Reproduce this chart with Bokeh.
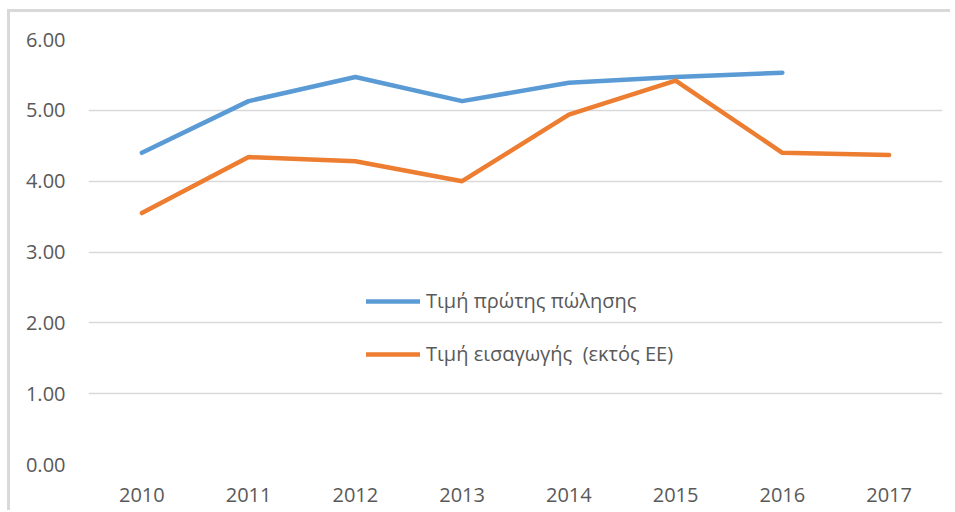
from bokeh.plotting import figure
from bokeh.models import Range1d, FactorRange, NumeralTickFormatter, Legend, LegendItem, FixedTicker
from bokeh.embed import file_html
from bokeh.resources import INLINE

years = ["2010", "2011", "2012", "2013", "2014", "2015", "2016", "2017"]
first_sale_years = ["2010", "2011", "2012", "2013", "2014", "2015", "2016"]
first_sale = [4.40, 5.13, 5.47, 5.13, 5.39, 5.47, 5.53]
import_price = [3.55, 4.34, 4.28, 4.00, 4.94, 5.42, 4.40, 4.37]
label_first = "Τιμή πρώτης πώλησης"
label_import = "Τιμή εισαγωγής  (εκτός ΕΕ)"
y_ticks = [0, 1, 2, 3, 4, 5, 6]

FONT = "Open Sans"
TXT = "#595959"
GRID = "#d9d9d9"

p = figure(width=940, height=498, output_backend="svg", toolbar_location=None,
           x_range=FactorRange(*years), y_range=Range1d(0, 6),
           min_border_left=78, min_border_top=27, min_border_bottom=49, min_border_right=11)
p.styles = {"border-top": "3px solid #d9d9d9", "border-left": "3px solid #d9d9d9",
            "margin-left": "7px", "margin-top": "9px", "box-sizing": "content-box"}
p.outline_line_color = None
p.background_fill_color = "white"
p.border_fill_color = "white"

r1 = p.line(first_sale_years, first_sale, line_color="#5B9BD5", line_width=4.5,
            line_cap="round", line_join="round")
r2 = p.line(years, import_price, line_color="#ED7D31", line_width=4.5,
            line_cap="round", line_join="round")

for ax in (p.xaxis[0], p.yaxis[0]):
    ax.axis_line_color = None
    ax.major_tick_line_color = None
    ax.minor_tick_line_color = None
    ax.major_label_text_font = FONT
    ax.major_label_text_font_size = "20px"
    ax.major_label_text_color = TXT

p.yaxis.ticker = FixedTicker(ticks=y_ticks)
p.yaxis.formatter = NumeralTickFormatter(format="0.00")
p.yaxis.major_label_standoff = 17
p.xaxis.major_label_standoff = 17

p.xgrid.grid_line_color = None
p.ygrid.grid_line_color = GRID
p.ygrid.grid_line_width = 1.5

legend = Legend(items=[LegendItem(label=label_first, renderers=[r1]),
                       LegendItem(label=label_import, renderers=[r2])],
                location=(278, 97), orientation="vertical")
legend.border_line_color = None
legend.background_fill_alpha = 0
legend.padding = 0
legend.margin = 0
legend.spacing = 26
legend.glyph_width = 54
legend.glyph_height = 26
legend.label_height = 26
legend.label_standoff = 6
legend.label_text_font = FONT
legend.label_text_font_size = "20px"
legend.label_text_color = TXT
p.add_layout(legend, "center")

open("out.html", "w").write(file_html(p, INLINE))
